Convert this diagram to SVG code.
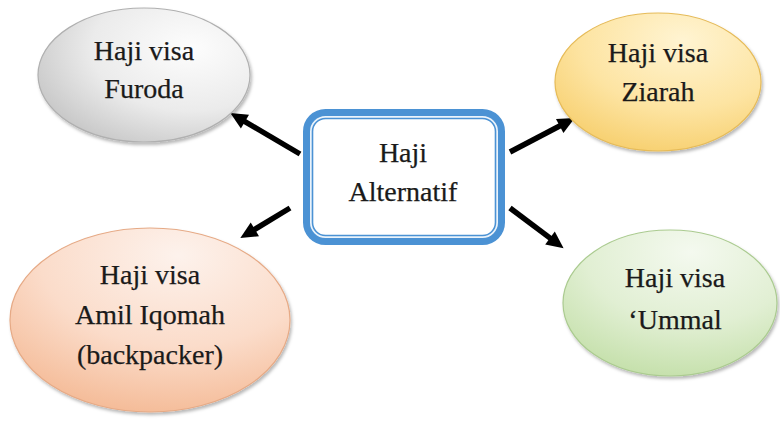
<svg xmlns="http://www.w3.org/2000/svg" width="780" height="422" viewBox="0 0 780 422">
<defs>
<style>
.t{font-family:"Liberation Serif","Times New Roman",serif;font-size:28px;fill:#1a1a1a;text-anchor:middle;stroke:#1a1a1a;stroke-width:0.25}
.conn{stroke:#000;stroke-width:5.5;fill:none;marker-end:url(#ah)}
</style>
<marker id="ah" markerUnits="userSpaceOnUse" markerWidth="22" markerHeight="22" viewBox="-2 -11 22 22" refX="0" refY="0" orient="auto" overflow="visible">
<path d="M-1,-8 L16,0 L-1,8 z" fill="#000"/>
</marker>
<filter id="sh" x="-10%" y="-10%" width="125%" height="130%">
<feDropShadow dx="1.5" dy="2.5" stdDeviation="1.8" flood-color="#000" flood-opacity="0.28"/>
</filter>
<radialGradient id="gGray" cx="0.72" cy="0.3" r="0.85">
<stop offset="0" stop-color="#fdfdfd"/><stop offset="0.55" stop-color="#ebebeb"/><stop offset="1" stop-color="#c3c3c3"/>
</radialGradient>
<radialGradient id="gYel" cx="0.62" cy="0.2" r="0.9">
<stop offset="0" stop-color="#fff4d2"/><stop offset="0.55" stop-color="#fde4a2"/><stop offset="1" stop-color="#f6cc66"/>
</radialGradient>
<radialGradient id="gOr" cx="0.6" cy="0.15" r="0.9">
<stop offset="0" stop-color="#fdf2ec"/><stop offset="0.55" stop-color="#fbdcca"/><stop offset="1" stop-color="#f4b994"/>
</radialGradient>
<radialGradient id="gGr" cx="0.6" cy="0.15" r="0.9">
<stop offset="0" stop-color="#f4f9ef"/><stop offset="0.55" stop-color="#e1efd3"/><stop offset="1" stop-color="#c3dfa8"/>
</radialGradient>
</defs>

<rect width="780" height="422" fill="#ffffff"/>

<g id="connectors">
<line class="conn" x1="300" y1="154" x2="244.1" y2="121.1"/>
<line class="conn" x1="290" y1="208" x2="254" y2="229.8"/>
<line class="conn" x1="510" y1="152" x2="560.6" y2="125.5"/>
<line class="conn" x1="510" y1="208" x2="550.8" y2="238.6"/>
</g>

<g id="center">
<rect x="306.5" y="112.5" width="195" height="129" rx="19" fill="#eaf3fb" stroke="#4b92d4" stroke-width="7"/>
<rect x="312.5" y="118.5" width="183" height="117" rx="13" fill="#ffffff" stroke="#4b92d4" stroke-width="1.6"/>
<text class="t" x="403" y="162">Haji</text>
<text class="t" x="403" y="201">Alternatif</text>
</g>

<g id="furoda">
<ellipse cx="144" cy="75" rx="106" ry="67" fill="url(#gGray)" stroke="#b0b0b0" stroke-width="1.2" filter="url(#sh)"/>
<text class="t" x="144" y="60">Haji visa</text>
<text class="t" x="144" y="98">Furoda</text>
</g>

<g id="ziarah">
<ellipse cx="658" cy="82" rx="103" ry="69" fill="url(#gYel)" stroke="#e6bb58" stroke-width="1.2" filter="url(#sh)"/>
<text class="t" x="658" y="62">Haji visa</text>
<text class="t" x="658" y="101">Ziarah</text>
</g>

<g id="amil">
<ellipse cx="150" cy="320" rx="140" ry="92" fill="url(#gOr)" stroke="#e6aa86" stroke-width="1.2" filter="url(#sh)"/>
<text class="t" x="150" y="284">Haji visa</text>
<text class="t" x="150" y="324">Amil Iqomah</text>
<text class="t" x="150" y="364">(backpacker)</text>
</g>

<g id="ummal">
<ellipse cx="670" cy="303" rx="107" ry="73" fill="url(#gGr)" stroke="#abcb90" stroke-width="1.2" filter="url(#sh)"/>
<text class="t" x="675" y="287">Haji visa</text>
<text class="t" x="675" y="329">‘Ummal</text>
</g>
</svg>
